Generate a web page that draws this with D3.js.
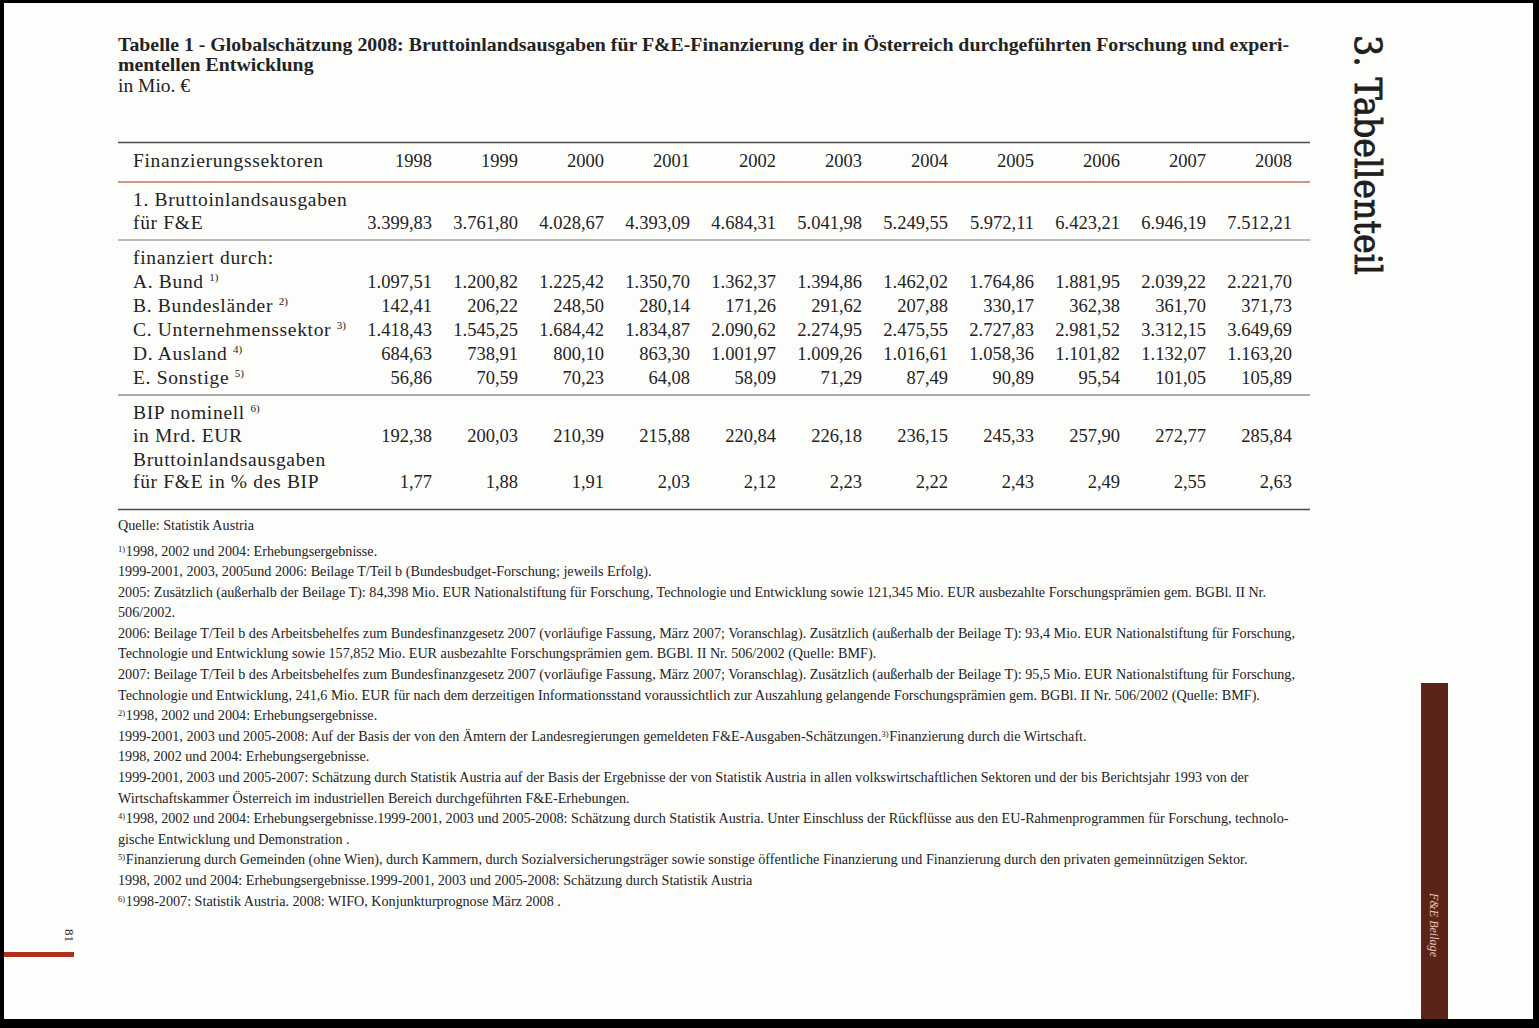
<!DOCTYPE html>
<html><head><meta charset="utf-8">
<script src="https://cdn.jsdelivr.net/npm/d3@7"></script>
<style>body{margin:0;background:#fff}svg{display:block}</style>
</head><body>
<svg id="c" width="1539" height="1028"></svg>
<script>
// ---------- DATA ----------
const years = [1998,1999,2000,2001,2002,2003,2004,2005,2006,2007,2008];
const bruttoinland  = [3399.83,3761.80,4028.67,4393.09,4684.31,5041.98,5249.55,5972.11,6423.21,6946.19,7512.21];
const bund          = [1097.51,1200.82,1225.42,1350.70,1362.37,1394.86,1462.02,1764.86,1881.95,2039.22,2221.70];
const bundeslaender = [142.41,206.22,248.50,280.14,171.26,291.62,207.88,330.17,362.38,361.70,371.73];
const unternehmen   = [1418.43,1545.25,1684.42,1834.87,2090.62,2274.95,2475.55,2727.83,2981.52,3312.15,3649.69];
const ausland       = [684.63,738.91,800.10,863.30,1001.97,1009.26,1016.61,1058.36,1101.82,1132.07,1163.20];
const sonstige      = [56.86,70.59,70.23,64.08,58.09,71.29,87.49,90.89,95.54,101.05,105.89];
const bipNominell   = [192.38,200.03,210.39,215.88,220.84,226.18,236.15,245.33,257.90,272.77,285.84];
const quoteBip      = [1.77,1.88,1.91,2.03,2.12,2.23,2.22,2.43,2.49,2.55,2.63];

const titleLines = ["Tabelle 1 - Globalschätzung 2008: Bruttoinlandsausgaben für F&E-Finanzierung der in Österreich durchgeführten Forschung und experi-",
                    "mentellen Entwicklung"];
const subtitle = "in Mio. €";
const headerLabel = "Finanzierungssektoren";
const rowLabels = [
  ["1. Bruttoinlandsausgaben", "für F&E"],
  ["finanziert durch:"],
  ["A. Bund ^1)"],
  ["B. Bundesländer ^2)"],
  ["C. Unternehmenssektor ^3)"],
  ["D. Ausland ^4)"],
  ["E. Sonstige ^5)"],
  ["BIP nominell ^6)", "in Mrd. EUR"],
  ["Bruttoinlandsausgaben", "für F&E in % des BIP"]
];
const rowValues = [bruttoinland, null, bund, bundeslaender, unternehmen, ausland, sonstige, bipNominell, quoteBip];

const quelle = "Quelle: Statistik Austria";
const footnotes = [
  "^1)1998, 2002 und 2004: Erhebungsergebnisse.",
  "1999-2001, 2003, 2005und 2006: Beilage T/Teil b (Bundesbudget-Forschung; jeweils Erfolg).",
  "2005: Zusätzlich (außerhalb der Beilage T): 84,398 Mio. EUR Nationalstiftung für Forschung, Technologie und Entwicklung sowie 121,345 Mio. EUR ausbezahlte Forschungsprämien gem. BGBl. II Nr.",
  "506/2002.",
  "2006: Beilage T/Teil b des Arbeitsbehelfes zum Bundesfinanzgesetz 2007 (vorläufige Fassung, März 2007; Voranschlag). Zusätzlich (außerhalb der Beilage T): 93,4 Mio. EUR Nationalstiftung für Forschung,",
  "Technologie und Entwicklung sowie 157,852 Mio. EUR ausbezahlte Forschungsprämien gem. BGBl. II Nr. 506/2002 (Quelle: BMF).",
  "2007: Beilage T/Teil b des Arbeitsbehelfes zum Bundesfinanzgesetz 2007 (vorläufige Fassung, März 2007; Voranschlag). Zusätzlich (außerhalb der Beilage T): 95,5 Mio. EUR Nationalstiftung für Forschung,",
  "Technologie und Entwicklung, 241,6 Mio. EUR für nach dem derzeitigen Informationsstand voraussichtlich zur Auszahlung gelangende Forschungsprämien gem. BGBl. II Nr. 506/2002 (Quelle: BMF).",
  "^2)1998, 2002 und 2004: Erhebungsergebnisse.",
  "1999-2001, 2003 und 2005-2008: Auf der Basis der von den Ämtern der Landesregierungen gemeldeten F&E-Ausgaben-Schätzungen.^3)Finanzierung durch die Wirtschaft.",
  "1998, 2002 und 2004: Erhebungsergebnisse.",
  "1999-2001, 2003 und 2005-2007: Schätzung durch Statistik Austria auf der Basis der Ergebnisse der von Statistik Austria in allen volkswirtschaftlichen Sektoren und der bis Berichtsjahr 1993 von der",
  "Wirtschaftskammer Österreich im industriellen Bereich durchgeführten F&E-Erhebungen.",
  "^4)1998, 2002 und 2004: Erhebungsergebnisse.1999-2001, 2003 und 2005-2008: Schätzung durch Statistik Austria. Unter Einschluss der Rückflüsse aus den EU-Rahmenprogrammen für Forschung, technolo-",
  "gische Entwicklung und Demonstration .",
  "^5)Finanzierung durch Gemeinden (ohne Wien), durch Kammern, durch Sozialversicherungsträger sowie sonstige öffentliche Finanzierung und Finanzierung durch den privaten gemeinnützigen Sektor.",
  "1998, 2002 und 2004: Erhebungsergebnisse.1999-2001, 2003 und 2005-2008: Schätzung durch Statistik Austria",
  "^6)1998-2007: Statistik Austria. 2008: WIFO, Konjunkturprognose März 2008 ."
];
const sectionTitle = "3. Tabellenteil";
const sideTab = "F&E Beilage";
const pageNumber = "81";

// ---------- DRAW ----------
const FONT = "'Liberation Serif', 'Times New Roman', serif";
const INK = "#232323";
const svg = d3.select("#c");
const fmt = d3.formatLocale({decimal: ",", thousands: ".", grouping: [3], currency: ["", "€"]}).format(",.2f");

svg.append("rect").attr("width", 1539).attr("height", 1028).attr("fill", "#fdfdfc");

// helper: write a string with ^n) superscripts
function richText(sel, str, supSize, supShift) {
  const parts = str.split(/\^(\d\))/);
  parts.forEach((p, i) => {
    if (!p) return;
    if (i % 2 === 1) {
      sel.append("tspan").attr("font-size", supSize).attr("letter-spacing", 0).attr("dy", -supShift).text(p);
      sel.append("tspan").attr("font-size", supSize).attr("dy", supShift).text("\u200A");
    } else {
      sel.append("tspan").text(p);
    }
  });
  return sel;
}

// Title
const tl = 118;
const t1 = svg.append("text").attr("x", tl).attr("y", 51)
  .attr("font-family", FONT).attr("font-weight", "bold").attr("font-size", 19).attr("fill", INK)
  .text(titleLines[0]);
const w1 = t1.node().getComputedTextLength();
const titleSize = 19 * 1172 / w1;
t1.attr("font-size", titleSize);
svg.append("text").attr("x", tl).attr("y", 71)
  .attr("font-family", FONT).attr("font-weight", "bold").attr("font-size", titleSize).attr("fill", INK)
  .text(titleLines[1]);
svg.append("text").attr("x", tl).attr("y", 92)
  .attr("font-family", FONT).attr("font-size", 19.5).attr("fill", INK)
  .text(subtitle);

// Table
const x = d3.scalePoint().domain(years).range([432, 1292]);
const tableLeft = 118, tableRight = 1310, labelX = 133;
const LABEL_SIZE = 19.5, NUM_SIZE = 18.5;

// letter-spacing so labels get Palatino-like width
const probe = svg.append("text").attr("font-family", FONT).attr("font-size", LABEL_SIZE).text(headerLabel);
const pw = probe.node().getComputedTextLength();
probe.remove();
const LS = Math.max(0, (190 - pw) / (headerLabel.length - 1));

const rules = [
  {y: 142.5, c: "#4a4a4a", w: 1.4},
  {y: 182,   c: "#c9735c", w: 1.5},
  {y: 240,   c: "#a5a5a5", w: 1.3},
  {y: 395,   c: "#8f8f8f", w: 1.3},
  {y: 509.5, c: "#4a4a4a", w: 1.6}
];
svg.selectAll("line.rule").data(rules).join("line").attr("class", "rule")
  .attr("x1", tableLeft).attr("x2", tableRight)
  .attr("y1", d => d.y).attr("y2", d => d.y)
  .attr("stroke", d => d.c).attr("stroke-width", d => d.w);

// header
svg.append("text").attr("x", labelX).attr("y", 167)
  .attr("font-family", FONT).attr("font-size", LABEL_SIZE).attr("letter-spacing", LS).attr("fill", INK)
  .text(headerLabel);
svg.selectAll("text.year").data(years).join("text").attr("class", "year")
  .attr("x", d => x(d)).attr("y", 167).attr("text-anchor", "end")
  .attr("font-family", FONT).attr("font-size", NUM_SIZE).attr("fill", INK)
  .text(d => d);

// rows: baselines for each label line
const lineBaselines = [[206, 229], [264], [288], [312], [336], [360], [384], [419, 442], [466, 488]];
rowLabels.forEach((lines, r) => {
  lines.forEach((ln, k) => {
    const t = svg.append("text").attr("x", labelX).attr("y", lineBaselines[r][k])
      .attr("font-family", FONT).attr("font-size", LABEL_SIZE).attr("letter-spacing", LS).attr("fill", INK);
    richText(t, ln, 11, 7);
  });
  const vals = rowValues[r];
  if (vals) {
    const yb = lineBaselines[r][lineBaselines[r].length - 1];
    svg.append("g").selectAll("text").data(vals).join("text")
      .attr("x", (d, i) => x(years[i])).attr("y", yb).attr("text-anchor", "end")
      .attr("font-family", FONT).attr("font-size", NUM_SIZE).attr("fill", INK)
      .text(d => fmt(d));
  }
});

// Footnotes
const fnX = 118;
const q = svg.append("text").attr("x", fnX).attr("y", 530)
  .attr("font-family", FONT).attr("font-size", 13.5).attr("fill", INK).text(quelle);
const fnProbe = svg.append("text").attr("font-family", FONT).attr("font-size", 13).text(footnotes[4]);
const fnW = fnProbe.node().getComputedTextLength();
fnProbe.remove();
const FN_SIZE = 13 * (1296 - fnX) / fnW;
q.attr("font-size", FN_SIZE);
const fnY = d3.scaleLinear().domain([0, footnotes.length - 1]).range([555.5, 905.5]);
footnotes.forEach((f, i) => {
  const t = svg.append("text").attr("x", fnX).attr("y", fnY(i))
    .attr("font-family", FONT).attr("font-size", FN_SIZE).attr("fill", INK);
  richText(t, f, FN_SIZE * 0.6, 4);
});

// Right side section title (rotated)
svg.append("text").attr("transform", "translate(1355,35) rotate(90)")
  .attr("font-family", "'DejaVu Serif', serif").attr("font-size", 38).attr("fill", "#1e1e1e")
  .attr("stroke", "#1e1e1e").attr("stroke-width", 0.9)
  .attr("textLength", 240).attr("lengthAdjust", "spacingAndGlyphs")
  .text(sectionTitle);

// brown side tab
svg.append("rect").attr("x", 1421).attr("y", 683).attr("width", 27).attr("height", 345).attr("fill", "#5b2419");
svg.append("text").attr("transform", "translate(1430,893) rotate(90)")
  .attr("font-family", FONT).attr("font-style", "italic").attr("font-size", 12).attr("fill", "#e6c9bd")
  .attr("textLength", 64).attr("lengthAdjust", "spacingAndGlyphs")
  .text(sideTab);

// page number + red bar
svg.append("text").attr("transform", "translate(65,929) rotate(90)")
  .attr("font-family", FONT).attr("font-size", 13).attr("fill", INK).text(pageNumber);
svg.append("rect").attr("x", 4).attr("y", 952).attr("width", 70).attr("height", 5).attr("fill", "#b0301f");

// scan frame (black edges)
svg.append("rect").attr("x", 0).attr("y", 0).attr("width", 1539).attr("height", 3).attr("fill", "#000");
svg.append("rect").attr("x", 0).attr("y", 0).attr("width", 4).attr("height", 1028).attr("fill", "#000");
svg.append("rect").attr("x", 1533).attr("y", 0).attr("width", 6).attr("height", 1028).attr("fill", "#000");
svg.append("rect").attr("x", 0).attr("y", 1019).attr("width", 1539).attr("height", 9).attr("fill", "#000");
</script>
</body></html>
